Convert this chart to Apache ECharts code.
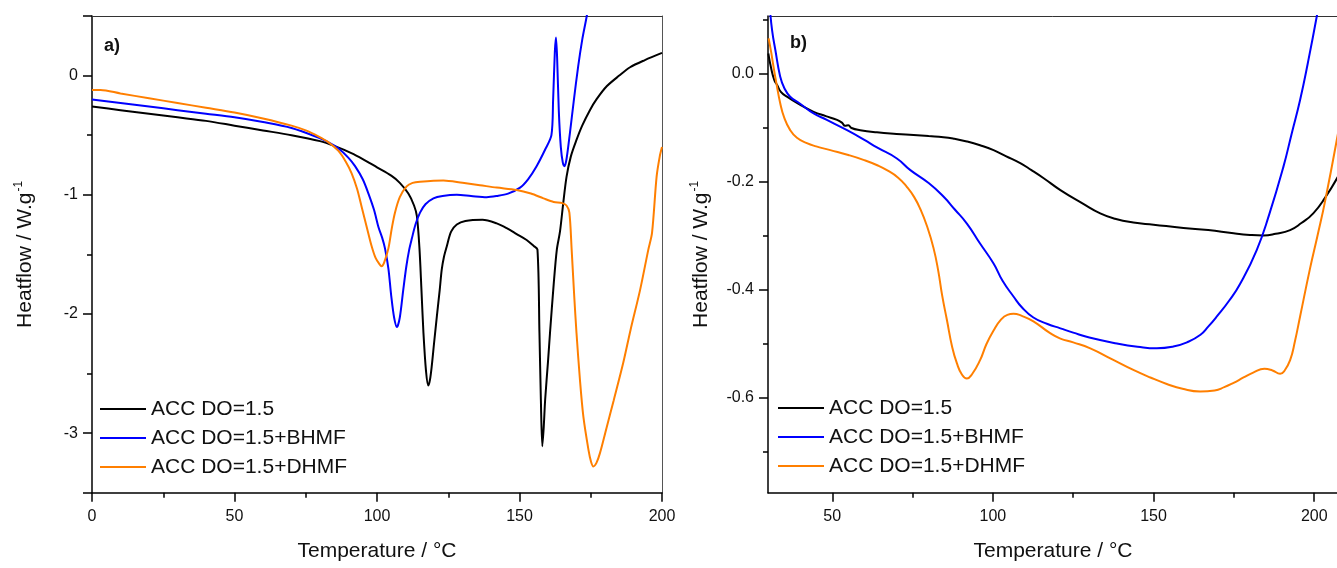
<!DOCTYPE html>
<html><head><meta charset="utf-8">
<script src="https://cdn.jsdelivr.net/npm/echarts@6/dist/echarts.min.js"></script>
<style>html,body{margin:0;padding:0;background:#fff}#c{width:1337px;height:568px}</style>
</head><body><div id="c"></div>
<script>
// ---------- DATA ----------
const seriesNames = ['ACC DO=1.5', 'ACC DO=1.5+BHMF', 'ACC DO=1.5+DHMF'];
const panelLabels = ['a)', 'b)'];
const xTitle = 'Temperature / °C';
const yTitleMain = 'Heatflow / W.g';
const yTitleSup = '-1';

// Panel a) : [temperature °C, heatflow W/g]
const a_ACC = [[0,-0.26],[10,-0.29],[20,-0.32],[30,-0.35],[40,-0.38],[50,-0.42],[60,-0.46],[70,-0.5],[80,-0.55],[85,-0.59],[91,-0.65],[95,-0.7],[100,-0.77],[105,-0.84],[108,-0.9],[111,-0.99],[113,-1.09],[114,-1.18],[114.9,-1.45],[115.6,-1.8],[116.3,-2.16],[117.2,-2.48],[118,-2.6],[118.6,-2.55],[119.2,-2.44],[120,-2.25],[121,-2.02],[122,-1.8],[122.7,-1.63],[123.5,-1.52],[124.4,-1.44],[126,-1.31],[128,-1.25],[131,-1.22],[137,-1.21],[142,-1.24],[145.5,-1.28],[149,-1.33],[152.5,-1.38],[155,-1.43],[156.3,-1.46],[157,-2.16],[157.5,-2.72],[158,-3.11],[158.5,-2.95],[159,-2.72],[160,-2.4],[160.7,-2.16],[162,-1.75],[163.1,-1.46],[164.2,-1.31],[165.3,-1.08],[166.5,-0.85],[168,-0.68],[170,-0.54],[172,-0.42],[174.7,-0.29],[177,-0.2],[180.6,-0.09],[185,0.0],[188.8,0.07],[194,0.13],[200,0.19]];
const a_BHMF = [[0,-0.2],[10,-0.23],[20,-0.26],[30,-0.29],[40,-0.32],[50,-0.35],[60,-0.39],[70,-0.44],[79.4,-0.52],[83,-0.56],[86.4,-0.61],[90,-0.69],[92.3,-0.76],[95,-0.87],[97,-0.99],[99,-1.13],[100.5,-1.27],[101.8,-1.36],[102.8,-1.45],[104,-1.62],[105,-1.85],[106,-2.03],[107,-2.11],[108,-2.03],[109.2,-1.8],[110.3,-1.6],[111.3,-1.46],[112.2,-1.37],[113.5,-1.25],[115.1,-1.15],[117,-1.08],[119.8,-1.03],[123,-1.01],[128,-1.0],[133,-1.01],[138.5,-1.02],[142,-1.01],[146,-0.99],[150.2,-0.94],[153,-0.87],[156,-0.76],[159,-0.62],[161.2,-0.5],[161.8,-0.2],[162.4,0.2],[162.8,0.32],[163.2,0.15],[163.8,-0.3],[164.5,-0.6],[165.2,-0.73],[165.8,-0.76],[166.5,-0.7],[167.7,-0.48],[169,-0.22],[170.6,0.08],[172,0.3],[173.6,0.5],[176,0.85]];
const a_DHMF = [[0,-0.12],[3,-0.12],[10,-0.15],[20,-0.19],[30,-0.23],[40,-0.27],[50,-0.31],[60,-0.36],[70,-0.42],[75,-0.46],[79.4,-0.51],[83,-0.56],[86.4,-0.63],[89,-0.72],[91.1,-0.82],[93,-0.95],[94.6,-1.1],[96.5,-1.28],[98.1,-1.43],[99.5,-1.53],[100.8,-1.58],[101.6,-1.6],[102.5,-1.57],[104,-1.45],[105.2,-1.28],[106.3,-1.15],[108,-1.02],[110.4,-0.93],[112.5,-0.9],[115.1,-0.89],[123.3,-0.88],[130,-0.9],[136.1,-0.92],[142,-0.94],[149,-0.96],[154,-0.99],[158.4,-1.03],[162,-1.06],[165,-1.07],[166.5,-1.09],[167.5,-1.15],[168.3,-1.46],[169.2,-1.85],[170,-2.16],[171.2,-2.55],[172.4,-2.86],[174.2,-3.14],[175.1,-3.24],[175.9,-3.28],[177,-3.25],[178.2,-3.17],[180.6,-2.95],[183,-2.73],[186.4,-2.41],[189,-2.13],[192.3,-1.8],[195.2,-1.46],[196.5,-1.32],[198.1,-0.85],[199.2,-0.68],[200,-0.6]];

// Panel b)
const b_ACC = [[30.1,0.038],[31,0.01],[32,-0.012],[32.8,-0.02],[34,-0.033],[35.9,-0.042],[40,-0.057],[44.2,-0.07],[48,-0.078],[51.5,-0.085],[53,-0.09],[54,-0.096],[55,-0.095],[56,-0.1],[58.7,-0.104],[63.9,-0.108],[70,-0.111],[75.3,-0.113],[80,-0.115],[84.6,-0.117],[88,-0.12],[91.9,-0.125],[96,-0.132],[100.2,-0.141],[104,-0.152],[108.5,-0.165],[112,-0.178],[115.8,-0.193],[121,-0.215],[128,-0.24],[133.4,-0.258],[138,-0.268],[143.7,-0.275],[150,-0.279],[159.3,-0.285],[167,-0.289],[174.9,-0.295],[180,-0.298],[184.2,-0.299],[188,-0.296],[192.5,-0.289],[196,-0.276],[199.7,-0.258],[203.5,-0.228],[207.4,-0.19]];
const b_BHMF = [[30.6,0.12],[31.3,0.08],[32.3,0.044],[33.8,-0.005],[35,-0.025],[36.9,-0.042],[40,-0.055],[44.2,-0.073],[48.3,-0.085],[54.6,-0.104],[60,-0.122],[63.9,-0.136],[70,-0.156],[74.3,-0.178],[80,-0.202],[84.6,-0.227],[88,-0.25],[91.9,-0.277],[96,-0.314],[100.2,-0.351],[103,-0.383],[106.4,-0.412],[109,-0.432],[112.6,-0.451],[117,-0.463],[121,-0.471],[125,-0.479],[130,-0.488],[138.6,-0.499],[145,-0.505],[151,-0.508],[156,-0.505],[160.4,-0.497],[164.6,-0.483],[167,-0.468],[169.7,-0.449],[173.5,-0.42],[177,-0.388],[182.1,-0.326],[186,-0.26],[190.4,-0.172],[193,-0.11],[195.6,-0.048],[198,0.02],[200.8,0.107],[202,0.15]];
const b_DHMF = [[30.2,0.066],[31,0.04],[31.7,0.014],[32.7,-0.02],[33.8,-0.054],[35,-0.08],[36.9,-0.104],[39,-0.118],[42.1,-0.128],[45,-0.134],[49.4,-0.141],[55,-0.15],[59.7,-0.159],[64,-0.169],[67,-0.178],[70.5,-0.192],[73.2,-0.209],[75.5,-0.228],[77.4,-0.25],[79.5,-0.282],[81.5,-0.322],[83,-0.365],[84.2,-0.41],[85.7,-0.456],[87.3,-0.505],[88.8,-0.536],[90.3,-0.556],[91.9,-0.564],[93.5,-0.556],[96,-0.53],[98,-0.5],[100.2,-0.475],[102.5,-0.455],[104.5,-0.446],[106.4,-0.444],[109,-0.448],[112.6,-0.458],[117.8,-0.48],[121,-0.49],[125,-0.497],[130.3,-0.508],[137,-0.528],[143.7,-0.548],[149,-0.562],[154.1,-0.574],[159,-0.583],[164.5,-0.588],[169,-0.586],[172,-0.58],[174.9,-0.572],[178,-0.562],[181,-0.553],[184.5,-0.546],[187,-0.549],[189.4,-0.555],[190.7,-0.55],[192.5,-0.53],[194,-0.495],[195.6,-0.449],[198.7,-0.36],[201,-0.3],[203.4,-0.235],[207.4,-0.11]];

// axis ranges and tick values
const aX = [0, 200], aY = [-3.5, 0.5];
const bX = [30, 207.4], bY = [-0.7754, 0.1074];
const aXTicks = [0, 50, 100, 150, 200];
const aYTicks = [-3, -2, -1, 0];
const bXTicks = [50, 100, 150, 200];
const bYTicks = [-0.6, -0.4, -0.2, 0.0];

// ---------- CHART ----------
const colors = ['#000000', '#0000ff', '#ff7f00'];
const FONT = '"Liberation Sans", Arial, Helvetica, sans-serif';
const chart = echarts.init(document.getElementById('c'), null, {renderer: 'canvas'});

const tickLine = {color: '#000', width: 1.5};
function mainX(grid, range, ticks, dec) {
  return {
    gridIndex: grid, type: 'value', min: range[0], max: range[1], splitNumber: 4, position: 'bottom',
    axisLine: {onZero: false, lineStyle: {color: '#000', width: 1.5}},
    axisTick: {show: true, inside: false, length: 9, lineStyle: tickLine, customValues: ticks},
    minorTick: {show: true, splitNumber: 2, length: 5, lineStyle: tickLine},
    splitLine: {show: false}, minorSplitLine: {show: false},
    axisLabel: {margin: 16, color: '#111', fontSize: 16, fontFamily: FONT, customValues: ticks,
      formatter: v => Number(v).toFixed(dec)},
    name: xTitle, nameLocation: 'middle', nameGap: 48,
    nameTextStyle: {fontSize: 21, fontFamily: FONT, color: '#111'}
  };
}
function frameX(grid, range) {
  return {gridIndex: grid, type: 'value', min: range[0], max: range[1], position: 'top',
    axisLine: {onZero: false, lineStyle: {color: '#333', width: 1}},
    axisTick: {show: false}, axisLabel: {show: false}, splitLine: {show: false}};
}
function mainY(grid, range, split, ticks, dec, customTicks) {
  const tick = {show: true, inside: false, length: 9, lineStyle: tickLine};
  if (customTicks) tick.customValues = ticks;
  return {
    gridIndex: grid, type: 'value', min: range[0], max: range[1], splitNumber: split, position: 'left',
    axisLine: {onZero: false, lineStyle: {color: '#000', width: 1.5}},
    axisTick: tick,
    minorTick: {show: true, splitNumber: 2, length: 5, lineStyle: tickLine},
    splitLine: {show: false}, minorSplitLine: {show: false},
    axisLabel: {margin: 14, color: '#111', fontSize: 16, fontFamily: FONT, customValues: ticks,
      formatter: v => Number(v).toFixed(dec)},
    name: yTitleMain + '{sup|' + yTitleSup + '}', nameLocation: 'middle', nameGap: 55, nameRotate: 90,
    nameTextStyle: {fontSize: 21, fontFamily: FONT, color: '#111', lineHeight: 24,
      rich: {sup: {fontSize: 12, fontFamily: FONT, color: '#111', verticalAlign: 'top', lineHeight: 12, padding: [0, 0, 8, 1]}}}
  };
}
function frameY(grid, range) {
  return {gridIndex: grid, type: 'value', min: range[0], max: range[1], position: 'right',
    axisLine: {onZero: false, lineStyle: {color: '#555', width: 1}},
    axisTick: {show: false}, axisLabel: {show: false}, splitLine: {show: false}};
}
function mkSeries(name, data, ci, xi, yi, sm) {
  return {name: name, type: 'line', data: data, xAxisIndex: xi, yAxisIndex: yi,
    showSymbol: false, symbol: 'none', smooth: sm, clip: true,
    lineStyle: {color: colors[ci], width: 2}, itemStyle: {color: colors[ci]},
    emphasis: {disabled: true}};
}
function mkLegend(left, top) {
  return {orient: 'vertical', left: left, top: top, padding: 0, itemWidth: 46, itemHeight: 14, itemGap: 7,
    icon: 'path://M0,6 L46,6 L46,8 L0,8 Z',
    data: seriesNames, selectedMode: false,
    textStyle: {fontSize: 21, fontFamily: FONT, color: '#111', lineHeight: 22, padding: [0, 0, 0, 0]}};
}

const option = {
  backgroundColor: '#fff',
  animation: false,
  title: [
    {text: panelLabels[0], left: 104, top: 37, padding: 0, textStyle: {fontSize: 18, fontWeight: 'bold', fontFamily: FONT, color: '#111'}},
    {text: panelLabels[1], left: 790, top: 34, padding: 0, textStyle: {fontSize: 18, fontWeight: 'bold', fontFamily: FONT, color: '#111'}}
  ],
  grid: [
    {left: 92, top: 16, width: 570, height: 476.7, outerBoundsMode: 'none', containLabel: false},
    {left: 768, top: 16, width: 570, height: 476.7, outerBoundsMode: 'none', containLabel: false}
  ],
  legend: [mkLegend(100, 398), mkLegend(778, 397)],
  xAxis: [mainX(0, aX, aXTicks, 0), frameX(0, aX), mainX(1, bX, bXTicks, 0), frameX(1, bX)],
  yAxis: [mainY(0, aY, 4, aYTicks, 0, false), frameY(0, aY), mainY(1, bY, 5, bYTicks, 1, true), frameY(1, bY)],
  series: [
    mkSeries(seriesNames[0], a_ACC, 0, 0, 0, 0.3),
    mkSeries(seriesNames[1], a_BHMF, 1, 0, 0, 0.3),
    mkSeries(seriesNames[2], a_DHMF, 2, 0, 0, 0.3),
    mkSeries(seriesNames[0], b_ACC, 0, 2, 2, 0.5),
    mkSeries(seriesNames[1], b_BHMF, 1, 2, 2, 0.5),
    mkSeries(seriesNames[2], b_DHMF, 2, 2, 2, 0.5)
  ]
};
chart.setOption(option);
</script>
</body></html>
